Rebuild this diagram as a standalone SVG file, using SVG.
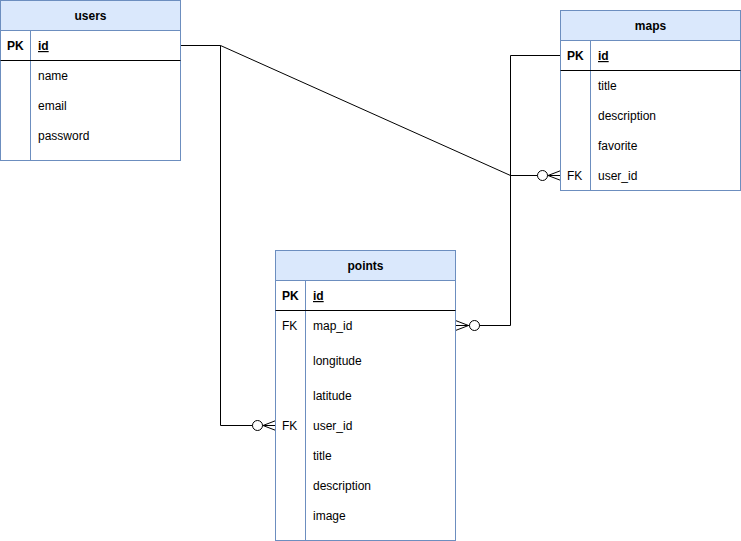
<svg xmlns="http://www.w3.org/2000/svg" width="741" height="541" viewBox="0 0 741 541">
<style>
text{font-family:"Liberation Sans",Arial,sans-serif;font-size:12px;fill:#000}
.h{font-weight:bold;text-anchor:middle}
.b{font-weight:bold}
.u{font-weight:bold;text-decoration:underline}
.box{fill:#fff;stroke:#6c8ebf;stroke-width:1}
.hd{fill:#dae8fc;stroke:#6c8ebf;stroke-width:1}
.sep{stroke:#000;stroke-width:1}
.div{stroke:#6c8ebf;stroke-width:1}
.c{fill:none;stroke:#000;stroke-width:1}
.o{fill:#fff;stroke:#000;stroke-width:1}
</style>
<rect width="741" height="541" fill="#fff"/>
<g id="connectors">
<path class="c" d="M180.5 45.5H220.5L510.5 175.5H561"/>
<path class="c" d="M561 170.5L548 175.5L561 180.5"/>
<circle class="o" cx="542.5" cy="175.5" r="5"/>
<path class="c" d="M220.5 45.5V425.5H276"/>
<path class="c" d="M276 420.5L263 425.5L276 430.5"/>
<circle class="o" cx="257.5" cy="425.5" r="5"/>
<path class="c" d="M561 55.5H510.5V325.5H455.5"/>
<path class="c" d="M455.5 320.5L468.5 325.5L455.5 330.5"/>
<circle class="o" cx="474.5" cy="325.5" r="5"/>
</g>
<g id="users">
<rect class="box" x="0.5" y="0.5" width="180" height="160"/>
<rect class="hd" x="0.5" y="0.5" width="180" height="30"/>
<line class="div" x1="30.5" y1="30.5" x2="30.5" y2="160.5"/>
<line class="sep" x1="0.5" y1="60.5" x2="180.5" y2="60.5"/>
<text class="h" x="90.5" y="20">users</text>
<text class="b" x="7" y="50">PK</text>
<text class="u" x="38" y="50">id</text>
<text x="38" y="80">name</text>
<text x="38" y="110">email</text>
<text x="38" y="140">password</text>
</g>
<g id="maps">
<rect class="box" x="560.5" y="10.5" width="180" height="180"/>
<rect class="hd" x="560.5" y="10.5" width="180" height="30"/>
<line class="div" x1="590.5" y1="40.5" x2="590.5" y2="190.5"/>
<line class="sep" x1="560.5" y1="70.5" x2="740.5" y2="70.5"/>
<text class="h" x="650.5" y="30">maps</text>
<text class="b" x="567" y="60">PK</text>
<text class="u" x="598" y="60">id</text>
<text x="598" y="90">title</text>
<text x="598" y="120">description</text>
<text x="598" y="150">favorite</text>
<text x="567" y="180">FK</text>
<text x="598" y="180">user_id</text>
</g>
<g id="points">
<rect class="box" x="275.5" y="250.5" width="180" height="290"/>
<rect class="hd" x="275.5" y="250.5" width="180" height="30"/>
<line class="div" x1="305.5" y1="280.5" x2="305.5" y2="540.5"/>
<line class="sep" x1="275.5" y1="310.5" x2="455.5" y2="310.5"/>
<text class="h" x="365.5" y="270">points</text>
<text class="b" x="282" y="300">PK</text>
<text class="u" x="313" y="300">id</text>
<text x="282" y="330">FK</text>
<text x="313" y="330">map_id</text>
<text x="313" y="365">longitude</text>
<text x="313" y="400">latitude</text>
<text x="282" y="430">FK</text>
<text x="313" y="430">user_id</text>
<text x="313" y="460">title</text>
<text x="313" y="490">description</text>
<text x="313" y="520">image</text>
</g>
</svg>
